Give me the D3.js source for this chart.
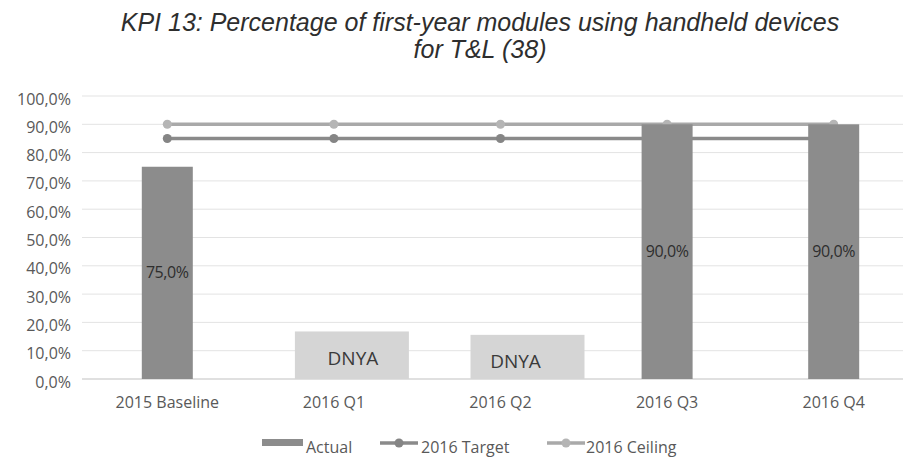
<!DOCTYPE html>
<html>
<head>
<meta charset="utf-8">
<script src="https://cdn.jsdelivr.net/npm/d3@7"></script>
<style>
  html, body { margin: 0; padding: 0; background: #fff; }
  svg { display: block; }
</style>
</head>
<body>
<svg id="chart" width="903" height="459"></svg>
<script>
// KPI 13 data
const categories = ["2015 Baseline", "2016 Q1", "2016 Q2", "2016 Q3", "2016 Q4"];
const actual = [75, null, null, 90, 90];
const target2016 = [85, 85, 85, 85, 85];
const ceiling2016 = [90, 90, 90, 90, 90];
const notes = [null, "DNYA", "DNYA", null, null];
const yTicks = [0, 10, 20, 30, 40, 50, 60, 70, 80, 90, 100];
const legendLabels = ["Actual", "2016 Target", "2016 Ceiling"];

const fmt = v => v.toFixed(1).replace(".", ",") + "%";

const svg = d3.select("#chart");
const W = 903, H = 459;

const x = d3.scaleBand().domain(categories).range([84, 917]);
const y = d3.scaleLinear().domain([0, 100]).range([379, 96]);
const cx = c => x(c) + x.bandwidth() / 2;

const axisFont = "'Open Sans', 'DejaVu Sans', sans-serif";
const barColor = "#8c8c8c";
const targetColor = "#8a8a8a";
const ceilingColor = "#a9a9a9";
const textGrey = "#595959";

// Title
const title = svg.append("text")
  .attr("text-anchor", "middle")
  .attr("font-family", "'Liberation Sans', Arial, sans-serif")
  .attr("font-style", "italic").attr("font-size", 25).attr("fill", "#2e2e2e");
title.append("tspan").attr("x", 480).attr("y", 31)
  .text("KPI 13: Percentage of first-year modules using handheld devices");
title.append("tspan").attr("x", 480).attr("y", 58).text("for T&L (38)");

// Gridlines
svg.append("g")
  .selectAll("line").data(yTicks.filter(t => t > 0)).join("line")
  .attr("x1", 82).attr("x2", W)
  .attr("y1", d => y(d)).attr("y2", d => y(d))
  .attr("stroke", "#e3e3e3").attr("stroke-width", 1);

// Y axis labels
const yAxis = svg.append("g").attr("transform", "translate(71,0)")
  .call(d3.axisLeft(y).tickValues(yTicks).tickFormat(fmt).tickSize(0).tickPadding(0));
yAxis.select(".domain").remove();
yAxis.selectAll("text")
  .attr("font-family", axisFont).attr("font-size", 16).attr("fill", textGrey)
  .attr("dy", "0.5em");

// Baseline axis
svg.append("line")
  .attr("x1", 82).attr("x2", W).attr("y1", y(0)).attr("y2", y(0))
  .attr("stroke", "#d6d6d6").attr("stroke-width", 1.5);

// X axis labels
const xAxis = svg.append("g").attr("transform", `translate(0,${y(0)})`)
  .call(d3.axisBottom(x).tickSize(0).tickPadding(18));
xAxis.select(".domain").remove();
xAxis.selectAll("text")
  .attr("font-family", axisFont).attr("font-size", 16).attr("fill", textGrey);

// Target & ceiling lines (drawn beneath the bars)
const line = d3.line().x((d, i) => cx(categories[i])).y(d => y(d));
function drawSeries(values, color, markerFill) {
  svg.append("path").datum(values)
    .attr("d", line).attr("fill", "none")
    .attr("stroke", color).attr("stroke-width", 3.5);
  svg.append("g").selectAll("circle").data(values).join("circle")
    .attr("cx", (d, i) => cx(categories[i])).attr("cy", d => y(d))
    .attr("r", 4.5).attr("fill", markerFill);
}
drawSeries(ceiling2016, ceilingColor, "#b5b5b5");
drawSeries(target2016, targetColor, "#858585");

// Actual bars
const barW = 51;
const bars = categories.map((c, i) => ({ c, v: actual[i] })).filter(d => d.v != null);
svg.append("g").selectAll("rect").data(bars).join("rect")
  .attr("x", d => cx(d.c) - barW / 2).attr("width", barW)
  .attr("y", d => y(d.v)).attr("height", d => y(0) - y(d.v))
  .attr("fill", barColor);

// Value labels in the middle of each bar
svg.append("g").selectAll("text").data(bars).join("text")
  .attr("x", d => cx(d.c)).attr("y", d => (y(d.v) + y(0)) / 2)
  .attr("dy", "0.35em").attr("text-anchor", "middle")
  .attr("font-family", axisFont).attr("font-size", 16).attr("fill", "#2e2e2e")
  .attr("letter-spacing", "-0.4")
  .text(d => fmt(d.v));

// "Data not yet available" note boxes
const noteData = categories.map((c, i) => ({ c, t: notes[i], i })).filter(d => d.t);
const noteTop = d => d.i === 1 ? y(16.8) : y(15.6);
const noteG = svg.append("g").selectAll("g").data(noteData).join("g")
  .attr("transform", d => `translate(${cx(d.c) + (d.i === 1 ? 18 : 27)},0)`);
noteG.append("rect")
  .attr("x", -57).attr("width", 114)
  .attr("y", noteTop)
  .attr("height", d => y(0) - noteTop(d))
  .attr("fill", "#d5d5d5");
noteG.append("text")
  .attr("x", d => d.i === 1 ? 1 : -12).attr("y", d => d.i === 1 ? 365 : 368)
  .attr("text-anchor", "middle")
  .attr("font-family", axisFont).attr("font-size", 19).attr("fill", "#3a3a3a")
  .text(d => d.t);

// Legend
const lg = svg.append("g").attr("transform", "translate(0,443)");
const legendText = (xPos, label) => lg.append("text").attr("x", xPos).attr("y", 4).attr("dy", "0.35em")
  .attr("font-family", axisFont).attr("font-size", 16).attr("fill", textGrey).text(label);

lg.append("rect").attr("x", 262).attr("y", -4).attr("width", 41).attr("height", 7).attr("fill", barColor);
legendText(306, legendLabels[0]);

lg.append("line").attr("x1", 380).attr("x2", 418).attr("y1", 0).attr("y2", 0)
  .attr("stroke", targetColor).attr("stroke-width", 3.5);
lg.append("circle").attr("cx", 399).attr("cy", 0).attr("r", 4.5).attr("fill", "#858585");
legendText(421, legendLabels[1]);

lg.append("line").attr("x1", 547).attr("x2", 585).attr("y1", 0).attr("y2", 0)
  .attr("stroke", ceilingColor).attr("stroke-width", 3.5);
lg.append("circle").attr("cx", 566).attr("cy", 0).attr("r", 4.5).attr("fill", "#b5b5b5");
legendText(586, legendLabels[2]);
</script>
</body>
</html>
